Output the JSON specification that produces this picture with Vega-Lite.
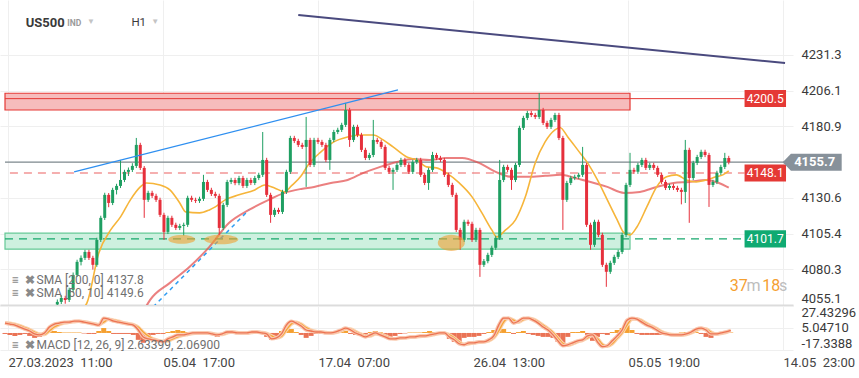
{
"$schema": "https://vega.github.io/schema/vega-lite/v6.json",
"padding": 0,
"spacing": 1,
"background": "white",
"config": {"view": {"stroke": null}, "font": "Roboto",
 "axis": {"labelFont": "Roboto", "labelFontSize": 13, "labelColor": "#3a3a3a", "gridColor": "#efefef", "domain": false, "ticks": false, "labelFlush": false}},
"datasets": {
"candles": [
{"t":53,"o":4055.5,"c":4057.3,"p":4054,"p2":4059},
{"t":57,"o":4057.3,"c":4060.1,"p":4055.8,"p2":4062},
{"t":61,"o":4060.1,"c":4058.7,"p":4056,"p2":4061.6},
{"t":65,"o":4058.7,"c":4065.8,"p":4057.2,"p2":4067.3},
{"t":69,"o":4065.8,"c":4076.3,"p":4064.3,"p2":4078},
{"t":73,"o":4076.3,"c":4085.5,"p":4074.8,"p2":4087},
{"t":77,"o":4085.5,"c":4088.3,"p":4083,"p2":4090},
{"t":81,"o":4088.3,"c":4092.5,"p":4086.8,"p2":4094},
{"t":85,"o":4092.5,"c":4088.3,"p":4086.8,"p2":4094},
{"t":89,"o":4088.3,"c":4083.4,"p":4080,"p2":4089.8},
{"t":93,"o":4083.4,"c":4101,"p":4082,"p2":4102.5},
{"t":97,"o":4101,"c":4116.5,"p":4099.5,"p2":4118},
{"t":101,"o":4116.5,"c":4132.7,"p":4115,"p2":4134.2},
{"t":105,"o":4132.7,"c":4127,"p":4124,"p2":4134},
{"t":109,"o":4127,"c":4136.2,"p":4125.5,"p2":4137.7},
{"t":113,"o":4136.2,"c":4139,"p":4133,"p2":4140.5},
{"t":117,"o":4139,"c":4143.2,"p":4137.5,"p2":4157.3},
{"t":121,"o":4143.2,"c":4148.9,"p":4141.7,"p2":4150.4},
{"t":125,"o":4148.9,"c":4150.3,"p":4146,"p2":4152},
{"t":129,"o":4150.3,"c":4153.1,"p":4148.8,"p2":4155},
{"t":133,"o":4153.1,"c":4167.9,"p":4151.6,"p2":4172.8},
{"t":137,"o":4167.9,"c":4151.7,"p":4150.2,"p2":4169.4},
{"t":141,"o":4151.7,"c":4129.2,"p":4116.5,"p2":4153},
{"t":145,"o":4129.2,"c":4134.1,"p":4127.7,"p2":4135.6},
{"t":149,"o":4134.1,"c":4132,"p":4130.5,"p2":4135.6},
{"t":153,"o":4132,"c":4129.2,"p":4127.7,"p2":4133.5},
{"t":157,"o":4129.2,"c":4118.6,"p":4117.1,"p2":4130.7},
{"t":161,"o":4118.6,"c":4106.6,"p":4101,"p2":4120.1},
{"t":165,"o":4106.6,"c":4116.5,"p":4105.1,"p2":4118},
{"t":169,"o":4116.5,"c":4111.6,"p":4110.1,"p2":4118},
{"t":173,"o":4111.6,"c":4109.4,"p":4107.9,"p2":4113.1},
{"t":177,"o":4109.4,"c":4110.8,"p":4107.9,"p2":4112.3},
{"t":181,"o":4110.8,"c":4111.6,"p":4104,"p2":4113.1},
{"t":185,"o":4111.6,"c":4130.6,"p":4110.1,"p2":4132.1},
{"t":189,"o":4130.6,"c":4129.2,"p":4127.7,"p2":4132.1},
{"t":193,"o":4129.2,"c":4128.5,"p":4127,"p2":4130.7},
{"t":197,"o":4128.5,"c":4129.9,"p":4127,"p2":4131.4},
{"t":201,"o":4129.9,"c":4141.8,"p":4128.4,"p2":4146.8},
{"t":205,"o":4141.8,"c":4136.2,"p":4134.7,"p2":4143.3},
{"t":209,"o":4136.2,"c":4133.4,"p":4131.9,"p2":4137.7},
{"t":213,"o":4133.4,"c":4132,"p":4130.5,"p2":4134.9},
{"t":217,"o":4132,"c":4109.4,"p":4104.5,"p2":4133.5},
{"t":221,"o":4109.4,"c":4125.6,"p":4107.9,"p2":4127.1},
{"t":225,"o":4125.6,"c":4141.8,"p":4124.1,"p2":4143.3},
{"t":229,"o":4141.8,"c":4143.2,"p":4140.3,"p2":4144.7},
{"t":233,"o":4143.2,"c":4141,"p":4139.5,"p2":4144.7},
{"t":237,"o":4141,"c":4144.6,"p":4139.5,"p2":4146.1},
{"t":241,"o":4144.6,"c":4139,"p":4137.5,"p2":4146.1},
{"t":245,"o":4139,"c":4143.2,"p":4137.5,"p2":4144.7},
{"t":249,"o":4143.2,"c":4141.1,"p":4139.6,"p2":4144.7},
{"t":253,"o":4141.1,"c":4144.6,"p":4139.6,"p2":4146.1},
{"t":257,"o":4144.6,"c":4146.8,"p":4143.1,"p2":4148.3},
{"t":261,"o":4146.8,"c":4157.3,"p":4145.3,"p2":4177},
{"t":265,"o":4157.3,"c":4132.7,"p":4131.2,"p2":4158.8},
{"t":269,"o":4132.7,"c":4118.6,"p":4113,"p2":4134.2},
{"t":273,"o":4118.6,"c":4122.1,"p":4117.1,"p2":4123.6},
{"t":277,"o":4122.1,"c":4120.7,"p":4119.2,"p2":4123.6},
{"t":281,"o":4120.7,"c":4134.8,"p":4119.2,"p2":4136.3},
{"t":285,"o":4134.8,"c":4148.9,"p":4133.3,"p2":4150.4},
{"t":289,"o":4148.9,"c":4172.8,"p":4147.4,"p2":4174.3},
{"t":293,"o":4172.8,"c":4170.7,"p":4169.2,"p2":4174.3},
{"t":297,"o":4170.7,"c":4167.9,"p":4166.4,"p2":4172.2},
{"t":301,"o":4167.9,"c":4166.5,"p":4165,"p2":4169.4},
{"t":305,"o":4166.5,"c":4171.4,"p":4138.3,"p2":4187.6},
{"t":309,"o":4171.4,"c":4153.8,"p":4152.3,"p2":4172.9},
{"t":313,"o":4153.8,"c":4171.4,"p":4152.3,"p2":4172.9},
{"t":317,"o":4171.4,"c":4170,"p":4168.5,"p2":4172.9},
{"t":321,"o":4170,"c":4167.9,"p":4166.4,"p2":4171.5},
{"t":325,"o":4167.9,"c":4157.3,"p":4155.8,"p2":4169.4},
{"t":329,"o":4157.3,"c":4171.4,"p":4150.3,"p2":4172.9},
{"t":333,"o":4171.4,"c":4177,"p":4169.9,"p2":4178.5},
{"t":337,"o":4177,"c":4178.5,"p":4175.5,"p2":4180},
{"t":341,"o":4178.5,"c":4182,"p":4177,"p2":4183.5},
{"t":345,"o":4182,"c":4192.5,"p":4180.5,"p2":4197.5},
{"t":349,"o":4192.5,"c":4171.4,"p":4166.5,"p2":4194},
{"t":353,"o":4171.4,"c":4180.6,"p":4169.9,"p2":4182.1},
{"t":357,"o":4180.6,"c":4174.9,"p":4173.4,"p2":4182.1},
{"t":361,"o":4174.9,"c":4164.4,"p":4162.9,"p2":4176.4},
{"t":365,"o":4164.4,"c":4158.7,"p":4157.2,"p2":4165.9},
{"t":369,"o":4158.7,"c":4160.8,"p":4157.2,"p2":4162.3},
{"t":373,"o":4160.8,"c":4171.4,"p":4159.3,"p2":4185.5},
{"t":377,"o":4171.4,"c":4170,"p":4168.5,"p2":4172.9},
{"t":381,"o":4170,"c":4166.5,"p":4165,"p2":4171.5},
{"t":385,"o":4166.5,"c":4151.7,"p":4150.2,"p2":4168},
{"t":389,"o":4151.7,"c":4148.9,"p":4147.4,"p2":4153.2},
{"t":393,"o":4148.9,"c":4150.3,"p":4136.2,"p2":4151.8},
{"t":397,"o":4150.3,"c":4153.8,"p":4148.8,"p2":4155.3},
{"t":401,"o":4153.8,"c":4157.3,"p":4152.3,"p2":4158.8},
{"t":405,"o":4157.3,"c":4153.8,"p":4152.3,"p2":4158.8},
{"t":409,"o":4153.8,"c":4148.9,"p":4147.4,"p2":4155.3},
{"t":413,"o":4148.9,"c":4155.9,"p":4147.4,"p2":4157.4},
{"t":417,"o":4155.9,"c":4157.3,"p":4154.4,"p2":4158.8},
{"t":421,"o":4157.3,"c":4146.8,"p":4145.3,"p2":4158.8},
{"t":425,"o":4146.8,"c":4141.1,"p":4139.6,"p2":4148.3},
{"t":429,"o":4141.1,"c":4150.3,"p":4136.2,"p2":4151.8},
{"t":433,"o":4150.3,"c":4160.8,"p":4148.8,"p2":4163},
{"t":437,"o":4160.8,"c":4158.7,"p":4157.2,"p2":4162.3},
{"t":441,"o":4158.7,"c":4157.3,"p":4155.8,"p2":4160.2},
{"t":445,"o":4157.3,"c":4146.8,"p":4145.3,"p2":4158.8},
{"t":449,"o":4146.8,"c":4139.7,"p":4138.2,"p2":4148.3},
{"t":453,"o":4139.7,"c":4132.7,"p":4131.2,"p2":4141.2},
{"t":457,"o":4132.7,"c":4108,"p":4106.5,"p2":4134.2},
{"t":461,"o":4108,"c":4101,"p":4094,"p2":4109.5},
{"t":465,"o":4101,"c":4113.7,"p":4099.5,"p2":4115.2},
{"t":469,"o":4113.7,"c":4112.3,"p":4110.8,"p2":4115.2},
{"t":473,"o":4112.3,"c":4101,"p":4099.5,"p2":4113.8},
{"t":477,"o":4101,"c":4108,"p":4099.5,"p2":4109.5},
{"t":481,"o":4108,"c":4083.4,"p":4074.9,"p2":4109.5},
{"t":485,"o":4083.4,"c":4086,"p":4081.9,"p2":4087.5},
{"t":489,"o":4086,"c":4090.4,"p":4084.5,"p2":4091.9},
{"t":493,"o":4090.4,"c":4095.4,"p":4088.9,"p2":4096.9},
{"t":497,"o":4095.4,"c":4102.4,"p":4093.9,"p2":4103.9},
{"t":501,"o":4102.4,"c":4143.2,"p":4100.9,"p2":4157.3},
{"t":505,"o":4143.2,"c":4152.4,"p":4141.7,"p2":4153.9},
{"t":509,"o":4152.4,"c":4150.3,"p":4148.8,"p2":4153.9},
{"t":513,"o":4150.3,"c":4143.2,"p":4136.2,"p2":4151.8},
{"t":517,"o":4143.2,"c":4153.8,"p":4141.7,"p2":4155.3},
{"t":521,"o":4153.8,"c":4179.9,"p":4152.3,"p2":4181.4},
{"t":525,"o":4179.9,"c":4186.9,"p":4178.4,"p2":4188.4},
{"t":529,"o":4186.9,"c":4190.4,"p":4185.4,"p2":4191.9},
{"t":533,"o":4190.4,"c":4189,"p":4187.5,"p2":4191.9},
{"t":537,"o":4189,"c":4187.6,"p":4186.1,"p2":4190.5},
{"t":541,"o":4187.6,"c":4192.5,"p":4186.1,"p2":4204.5},
{"t":545,"o":4192.5,"c":4183.4,"p":4181.9,"p2":4194},
{"t":549,"o":4183.4,"c":4180.6,"p":4179.1,"p2":4184.9},
{"t":553,"o":4180.6,"c":4185.5,"p":4179.1,"p2":4187},
{"t":557,"o":4185.5,"c":4189,"p":4184,"p2":4190.5},
{"t":561,"o":4189,"c":4172.8,"p":4171.3,"p2":4190.5},
{"t":565,"o":4172.8,"c":4129.2,"p":4108,"p2":4174.3},
{"t":569,"o":4129.2,"c":4141.1,"p":4127.7,"p2":4142.6},
{"t":573,"o":4141.1,"c":4144.6,"p":4139.6,"p2":4146.1},
{"t":577,"o":4144.6,"c":4145.4,"p":4143.1,"p2":4146.9},
{"t":581,"o":4145.4,"c":4146.8,"p":4143.9,"p2":4148.3},
{"t":585,"o":4146.8,"c":4153.8,"p":4145.3,"p2":4166.5},
{"t":589,"o":4153.8,"c":4111.6,"p":4110.1,"p2":4155.3},
{"t":593,"o":4111.6,"c":4097.5,"p":4094,"p2":4113.1},
{"t":597,"o":4097.5,"c":4113.7,"p":4096,"p2":4115.2},
{"t":601,"o":4113.7,"c":4104.5,"p":4103,"p2":4115.2},
{"t":605,"o":4104.5,"c":4083.4,"p":4081.9,"p2":4106},
{"t":609,"o":4083.4,"c":4078.5,"p":4067.9,"p2":4084.9},
{"t":613,"o":4078.5,"c":4084.8,"p":4077,"p2":4086.3},
{"t":617,"o":4084.8,"c":4089,"p":4083.3,"p2":4090.5},
{"t":621,"o":4089,"c":4092.5,"p":4087.5,"p2":4094},
{"t":625,"o":4092.5,"c":4104.5,"p":4091,"p2":4106},
{"t":629,"o":4104.5,"c":4139.7,"p":4103,"p2":4141.2},
{"t":633,"o":4139.7,"c":4150.3,"p":4138.2,"p2":4162.3},
{"t":637,"o":4150.3,"c":4149,"p":4147.5,"p2":4151.8},
{"t":641,"o":4149,"c":4153.8,"p":4147.5,"p2":4155.3},
{"t":645,"o":4153.8,"c":4157.3,"p":4152.3,"p2":4158.8},
{"t":649,"o":4157.3,"c":4151.7,"p":4150.2,"p2":4158.8},
{"t":653,"o":4151.7,"c":4153.8,"p":4150.2,"p2":4155.3},
{"t":657,"o":4153.8,"c":4151.7,"p":4150.2,"p2":4155.3},
{"t":661,"o":4151.7,"c":4146.8,"p":4145.3,"p2":4153.2},
{"t":665,"o":4146.8,"c":4141.8,"p":4140.3,"p2":4148.3},
{"t":669,"o":4141.8,"c":4137.6,"p":4136.1,"p2":4143.3},
{"t":673,"o":4137.6,"c":4139,"p":4136.1,"p2":4140.5},
{"t":677,"o":4139,"c":4137.6,"p":4136.1,"p2":4140.5},
{"t":681,"o":4137.6,"c":4136.2,"p":4134.7,"p2":4139.1},
{"t":685,"o":4136.2,"c":4134.8,"p":4126,"p2":4137.7},
{"t":689,"o":4134.8,"c":4164.4,"p":4127,"p2":4171.4},
{"t":693,"o":4164.4,"c":4144.6,"p":4113,"p2":4165.9},
{"t":697,"o":4144.6,"c":4155.2,"p":4143.1,"p2":4156.7},
{"t":701,"o":4155.2,"c":4159.4,"p":4153.7,"p2":4160.9},
{"t":705,"o":4159.4,"c":4163,"p":4157.9,"p2":4164.5},
{"t":709,"o":4163,"c":4160.8,"p":4159.3,"p2":4164.5},
{"t":713,"o":4160.8,"c":4139.7,"p":4124.2,"p2":4162.3},
{"t":717,"o":4139.7,"c":4141.8,"p":4138.2,"p2":4143.3},
{"t":721,"o":4141.8,"c":4148.2,"p":4140.3,"p2":4149.7},
{"t":725,"o":4148.2,"c":4152.4,"p":4146.7,"p2":4153.9},
{"t":729,"o":4152.4,"c":4158.7,"p":4150.9,"p2":4162.3},
{"t":733,"o":4158.7,"c":4155.7,"p":4154.2,"p2":4160.2}
],
"sma50": [
{"t":78,"p":4052},{"t":83,"p":4056.6},{"t":95,"p":4091.8},{"t":107,"p":4108},{"t":117,"p":4117.2},{"t":127,"p":4129.2},{"t":137,"p":4138.3},{"t":143,"p":4141.1},{"t":157,"p":4139.7},{"t":167,"p":4136.2},{"t":177,"p":4127},{"t":183,"p":4120.7},{"t":197,"p":4120},{"t":207,"p":4122.1},{"t":213,"p":4124.2},{"t":223,"p":4129.2},{"t":237,"p":4132.7},{"t":253,"p":4136.2},{"t":263,"p":4139.7},{"t":273,"p":4137.6},{"t":283,"p":4134.8},{"t":290,"p":4139},{"t":300,"p":4146.1},{"t":307,"p":4153.8},{"t":320,"p":4163},{"t":333,"p":4170},{"t":347,"p":4173.5},{"t":360,"p":4174.9},{"t":373,"p":4174.9},{"t":383,"p":4171.4},{"t":393,"p":4166.5},{"t":407,"p":4159.4},{"t":417,"p":4157.3},{"t":427,"p":4152.4},{"t":437,"p":4151.7},{"t":447,"p":4148.2},{"t":460,"p":4141.1},{"t":473,"p":4131.3},{"t":483,"p":4120},{"t":493,"p":4108},{"t":498,"p":4103.1},{"t":507,"p":4108},{"t":517,"p":4115.1},{"t":527,"p":4131.3},{"t":537,"p":4155.2},{"t":547,"p":4170},{"t":557,"p":4178.5},{"t":562,"p":4180.2},{"t":570,"p":4173.5},{"t":580,"p":4164.4},{"t":590,"p":4155.2},{"t":600,"p":4143.2},{"t":610,"p":4129.2},{"t":620,"p":4115.1},{"t":627,"p":4105.9},{"t":633,"p":4104.5},{"t":640,"p":4110.1},{"t":650,"p":4124.2},{"t":660,"p":4138.3},{"t":670,"p":4145.4},{"t":680,"p":4146.8},{"t":690,"p":4143.2},{"t":700,"p":4141.8},{"t":710,"p":4143.2},{"t":720,"p":4145.4},{"t":727,"p":4146.8},{"t":733,"p":4149.6}
],
"sma200": [
{"t":142,"p":4053},{"t":147,"p":4058.7},{"t":167,"p":4070.7},{"t":187,"p":4082},{"t":207,"p":4096.1},{"t":227,"p":4113},{"t":247,"p":4122.1},{"t":267,"p":4129.2},{"t":283,"p":4134.1},{"t":300,"p":4136.9},{"t":313,"p":4138.3},{"t":330,"p":4141.1},{"t":347,"p":4143.2},{"t":363,"p":4148.2},{"t":380,"p":4152.4},{"t":397,"p":4155.9},{"t":413,"p":4158},{"t":430,"p":4157.3},{"t":447,"p":4158.7},{"t":463,"p":4158.7},{"t":480,"p":4155.2},{"t":497,"p":4148.9},{"t":513,"p":4145.4},{"t":530,"p":4145.4},{"t":547,"p":4146.1},{"t":563,"p":4146.8},{"t":577,"p":4144.6},{"t":593,"p":4141.8},{"t":610,"p":4138.3},{"t":627,"p":4134.1},{"t":643,"p":4134.8},{"t":660,"p":4138.3},{"t":677,"p":4141.1},{"t":693,"p":4141.8},{"t":710,"p":4143.2},{"t":723,"p":4141.1},{"t":733,"p":4137.8}
],
"macd": [
{"t":0,"m":10,"s":10.5,"h":-1},{"t":5,"m":9,"s":10,"h":-2},{"t":10,"m":8,"s":9,"h":-3},{"t":15,"m":6,"s":7.5,"h":-2},{"t":20,"m":4,"s":5.5,"h":-1},{"t":25,"m":2,"s":3.5,"h":-3},{"t":30,"m":-1,"s":1,"h":-5},{"t":35,"m":-2,"s":-1,"h":-4},{"t":40,"m":0,"s":-1.5,"h":1},{"t":45,"m":6,"s":2,"h":3},{"t":50,"m":9,"s":6,"h":2},{"t":55,"m":10,"s":8.5,"h":1},{"t":60,"m":11,"s":10,"h":0.5},{"t":65,"m":11,"s":11,"h":0.5},{"t":70,"m":12,"s":11.5,"h":0.5},{"t":75,"m":12,"s":12,"h":0.5},{"t":80,"m":11,"s":11.5,"h":-0.5},{"t":85,"m":10,"s":10.5,"h":-1},{"t":90,"m":9,"s":9.5,"h":-1},{"t":95,"m":8,"s":8.5,"h":2},{"t":100,"m":15,"s":11,"h":5},{"t":105,"m":14,"s":14,"h":2},{"t":110,"m":12,"s":13,"h":-1},{"t":115,"m":11,"s":12,"h":-1},{"t":120,"m":10,"s":10.5,"h":-1},{"t":125,"m":9,"s":9.5,"h":-1},{"t":130,"m":8,"s":8.5,"h":-2},{"t":135,"m":3,"s":6,"h":-7},{"t":140,"m":-4,"s":1,"h":-10},{"t":145,"m":-6,"s":-3,"h":-6},{"t":150,"m":-7,"s":-6,"h":-2},{"t":155,"m":-8,"s":-7.5,"h":-1},{"t":160,"m":-9,"s":-8.5,"h":-1},{"t":165,"m":-6,"s":-8,"h":1},{"t":170,"m":-4,"s":-6,"h":2},{"t":175,"m":-2,"s":-4,"h":3},{"t":180,"m":-2,"s":-2.5,"h":2},{"t":185,"m":-1,"s":-1.5,"h":1},{"t":190,"m":0,"s":-0.5,"h":0.5},{"t":195,"m":0,"s":0,"h":0.5},{"t":200,"m":0,"s":0,"h":0.5},{"t":205,"m":0,"s":0,"h":-1},{"t":210,"m":-1,"s":-0.5,"h":-2},{"t":215,"m":-2,"s":-1.5,"h":-4},{"t":220,"m":-1,"s":-1.5,"h":-2},{"t":225,"m":1,"s":0,"h":1},{"t":230,"m":1,"s":1,"h":1},{"t":235,"m":0,"s":0.5,"h":0.5},{"t":240,"m":0,"s":0,"h":0.5},{"t":245,"m":0,"s":0,"h":-0.5},{"t":250,"m":1,"s":0.5,"h":0.5},{"t":255,"m":1,"s":1,"h":0.5},{"t":260,"m":0,"s":0.5,"h":-1},{"t":265,"m":-1,"s":-0.5,"h":-4},{"t":270,"m":-6,"s":-3,"h":-7},{"t":275,"m":-5,"s":-5,"h":-4},{"t":280,"m":-1,"s":-3.5,"h":2},{"t":285,"m":8,"s":3,"h":5},{"t":290,"m":12,"s":9,"h":4},{"t":295,"m":10,"s":11,"h":1},{"t":300,"m":7,"s":9,"h":-2},{"t":305,"m":3,"s":5.5,"h":-5},{"t":310,"m":2,"s":3,"h":-3},{"t":315,"m":1,"s":1.5,"h":-1},{"t":320,"m":1,"s":1,"h":-1},{"t":325,"m":0,"s":0.5,"h":-0.5},{"t":330,"m":0,"s":0,"h":-1},{"t":335,"m":1,"s":0.5,"h":1},{"t":340,"m":3,"s":2,"h":2},{"t":345,"m":5,"s":4,"h":2},{"t":350,"m":3,"s":4,"h":-1},{"t":355,"m":0,"s":1.5,"h":-2},{"t":360,"m":-2,"s":-1,"h":-3},{"t":365,"m":-4,"s":-3,"h":-2},{"t":370,"m":-2,"s":-3,"h":1},{"t":375,"m":0,"s":-1,"h":2},{"t":380,"m":-2,"s":-1,"h":1},{"t":385,"m":-4,"s":-3,"h":-2},{"t":390,"m":-6,"s":-5,"h":-4},{"t":395,"m":-6,"s":-6,"h":-3},{"t":400,"m":-5,"s":-5.5,"h":-1},{"t":405,"m":-5,"s":-5,"h":-0.5},{"t":410,"m":-4,"s":-4.5,"h":0.5},{"t":415,"m":-4,"s":-4,"h":0.5},{"t":420,"m":-3,"s":-3.5,"h":0.5},{"t":425,"m":-3,"s":-3,"h":1},{"t":430,"m":-2,"s":-2.5,"h":2},{"t":435,"m":-1,"s":-1.5,"h":1},{"t":440,"m":0,"s":-0.5,"h":1},{"t":445,"m":0,"s":0,"h":-2},{"t":450,"m":-4,"s":-2,"h":-6},{"t":455,"m":-7,"s":-5,"h":-9},{"t":460,"m":-11,"s":-9,"h":-10},{"t":465,"m":-12,"s":-11.5,"h":-5},{"t":470,"m":-10,"s":-11,"h":-4},{"t":475,"m":-10,"s":-10,"h":-4},{"t":480,"m":-9,"s":-9.5,"h":-3},{"t":485,"m":-9,"s":-9,"h":-1},{"t":490,"m":-7,"s":-8,"h":1},{"t":495,"m":-3,"s":-5,"h":3},{"t":500,"m":8,"s":2,"h":6},{"t":505,"m":15,"s":11,"h":4},{"t":510,"m":15,"s":15,"h":1},{"t":515,"m":10,"s":13,"h":-1},{"t":520,"m":12,"s":11,"h":1},{"t":525,"m":15,"s":13.5,"h":2},{"t":530,"m":15,"s":15,"h":-1},{"t":535,"m":13,"s":14,"h":-2},{"t":540,"m":10,"s":11.5,"h":-3},{"t":545,"m":6,"s":8,"h":-4},{"t":550,"m":3,"s":4.5,"h":-4},{"t":555,"m":-2,"s":0.5,"h":-5},{"t":560,"m":-8,"s":-5,"h":-9},{"t":565,"m":-13,"s":-10.5,"h":-12},{"t":570,"m":-12,"s":-12.5,"h":-4},{"t":575,"m":-10,"s":-11,"h":1},{"t":580,"m":-8,"s":-9,"h":1},{"t":585,"m":-7,"s":-7.5,"h":2},{"t":590,"m":-3,"s":-5,"h":-2},{"t":595,"m":-2,"s":-2.5,"h":-8},{"t":600,"m":-9,"s":-5.5,"h":-4},{"t":605,"m":-14,"s":-11.5,"h":-1},{"t":610,"m":-13,"s":-13.5,"h":-2},{"t":615,"m":-8,"s":-11,"h":1},{"t":620,"m":-3,"s":-5.5,"h":3},{"t":625,"m":3,"s":0,"h":5},{"t":630,"m":13,"s":8,"h":8},{"t":635,"m":15,"s":14,"h":3},{"t":640,"m":14,"s":14.5,"h":-1},{"t":645,"m":11,"s":12.5,"h":-2},{"t":650,"m":8,"s":9.5,"h":-2},{"t":655,"m":6,"s":7,"h":-2},{"t":660,"m":3,"s":4.5,"h":-2},{"t":665,"m":0,"s":1.5,"h":-2},{"t":670,"m":-1,"s":-0.5,"h":-1},{"t":675,"m":-2,"s":-1.5,"h":-0.5},{"t":680,"m":-2,"s":-2,"h":-0.5},{"t":685,"m":-2,"s":-2,"h":0.5},{"t":690,"m":-1,"s":-1.5,"h":1},{"t":695,"m":1,"s":0,"h":1},{"t":700,"m":4,"s":2.5,"h":1},{"t":705,"m":5,"s":4.5,"h":-1},{"t":710,"m":3,"s":4,"h":-4},{"t":715,"m":-1,"s":1,"h":-5},{"t":720,"m":-1,"s":-1,"h":-2},{"t":725,"m":0,"s":-0.5,"h":-1},{"t":730,"m":1,"s":0.5,"h":0.5},{"t":735,"m":2.6,"s":2.07,"h":0.5}
]
},
"vconcat": [
{
"width": 793, "height": 305,
"data": {"name": "candles"},
"encoding": {
 "x": {"field": "t", "type": "quantitative", "title": null, "scale": {"domain": [0, 793], "nice": false, "zero": false},
   "axis": {"values": [3, 160, 317, 474, 631, 788], "labels": false, "ticks": false, "domain": true, "domainColor": "#dcdcdc", "domainWidth": 2, "grid": true, "gridColor": "#efefef"}},
 "y": {"field": "p", "type": "quantitative", "title": null, "scale": {"domain": [4055.1, 4270], "nice": false, "zero": false},
   "axis": {"orient": "right", "values": [4055.1, 4080.3, 4105.4, 4130.6, 4180.9, 4206.1, 4231.3], "format": ".1f", "labelFlush": 1, "labelPadding": 8, "grid": true, "gridColor": "#efefef"}}
},
"layer": [
 {"data": {"values": [{"t": 0, "t2": 633, "p": 4192.5, "p2": 4204.3}]}, "mark": {"type": "rect", "fill": "#f6bcbc", "stroke": "#e53935", "strokeWidth": 1.2}, "encoding": {"x2": {"field": "t2"}, "y2": {"field": "p2"}}},
 {"data": {"values": [{"t": 0, "t2": 633, "p": 4094.4, "p2": 4105.7}]}, "mark": {"type": "rect", "fill": "#cdf0df", "stroke": "#66c997", "strokeWidth": 1.2}, "encoding": {"x2": {"field": "t2"}, "y2": {"field": "p2"}}},
 {"data": {"values": [{"t": 0, "t2": 749, "p": 4200.5}]}, "mark": {"type": "rule", "color": "#e53935", "strokeWidth": 1}, "encoding": {"x2": {"field": "t2"}}},
 {"data": {"values": [{"t": 5, "t2": 749, "p": 4148.1}]}, "mark": {"type": "rule", "color": "#e84545", "strokeWidth": 1.2, "strokeDash": [8, 6], "opacity": 0.85}, "encoding": {"x2": {"field": "t2"}}},
 {"data": {"values": [{"t": 0, "t2": 749, "p": 4101.7}]}, "mark": {"type": "rule", "color": "#17a86c", "strokeWidth": 1.2, "strokeDash": [8, 6]}, "encoding": {"x2": {"field": "t2"}}},
 {"data": {"values": [{"t": 0, "t2": 790, "p": 4155.7}]}, "mark": {"type": "rule", "color": "#7d878d", "strokeWidth": 1.3}, "encoding": {"x2": {"field": "t2"}}},
 {"data": {"name": "sma200"}, "mark": {"type": "line", "color": "#e34a4a", "strokeWidth": 2, "opacity": 0.7, "interpolate": "monotone", "clip": true}, "encoding": {}},
 {"data": {"name": "sma50"}, "mark": {"type": "line", "color": "#f6b53a", "strokeWidth": 1.6, "interpolate": "monotone", "clip": true}, "encoding": {}},
 {"mark": {"type": "rule", "strokeWidth": 1, "clip": true},
  "encoding": {"y2": {"field": "p2"}, "color": {"condition": {"test": "datum.c >= datum.o", "value": "#1f9f62"}, "value": "#e6303c"}}},
 {"mark": {"type": "bar", "size": 3, "clip": true},
  "encoding": {"y": {"field": "o", "type": "quantitative", "title": null, "scale": {"domain": [4055.1, 4270], "nice": false, "zero": false},
    "axis": {"orient": "right", "values": [4055.1, 4080.3, 4105.4, 4130.6, 4180.9, 4206.1, 4231.3], "format": ".1f", "labelFlush": 1, "labelPadding": 8, "grid": true, "gridColor": "#efefef"}}, "y2": {"field": "c"},
   "color": {"condition": {"test": "datum.c >= datum.o", "value": "#1f9f62"}, "value": "#e6303c"}}},
 {"data": {"values": [{"t": 70, "p": 4148.9}, {"t": 398, "p": 4206.6}]}, "mark": {"type": "line", "color": "#2e8ff0", "strokeWidth": 1.3}, "encoding": {}},
 {"data": {"values": [{"t": 150, "p": 4053.7}, {"t": 247, "p": 4122.1}]}, "mark": {"type": "line", "color": "#2e9cf2", "strokeWidth": 1.5, "strokeDash": [4, 4], "clip": true}, "encoding": {}},
 {"data": {"values": [{"t": 297, "p": 4259.4}, {"t": 790, "p": 4225.6}]}, "mark": {"type": "line", "color": "#4a4a7e", "strokeWidth": 2}, "encoding": {}},
 {"data": {"values": [{"t": 179, "p": 4101.3}]}, "mark": {"type": "point", "filled": true, "color": "#f0a030", "opacity": 0.6, "size": 729, "shape": "M-1,0C-1,-0.177,-0.552,-0.32,0,-0.32C0.552,-0.32,1,-0.177,1,0C1,0.177,0.552,0.32,0,0.32C-0.552,0.32,-1,0.177,-1,0Z"}},
 {"data": {"values": [{"t": 219, "p": 4101.3}]}, "mark": {"type": "point", "filled": true, "color": "#f0a030", "opacity": 0.6, "size": 1156, "shape": "M-1,0C-1,-0.155,-0.552,-0.28,0,-0.28C0.552,-0.28,1,-0.155,1,0C1,0.155,0.552,0.28,0,0.28C-0.552,0.28,-1,0.155,-1,0Z"}},
 {"data": {"values": [{"t": 452, "p": 4098.9}]}, "mark": {"type": "point", "filled": true, "color": "#f0a030", "opacity": 0.6, "size": 729, "shape": "M-1,0C-1,-0.331,-0.552,-0.6,0,-0.6C0.552,-0.6,1,-0.331,1,0C1,0.331,0.552,0.6,0,0.6C-0.552,0.6,-1,0.331,-1,0Z"}},
 {"data": {"values": [{"t": 749, "t2": 791, "p": 4194.6, "p2": 4206.6, "k": "r"}, {"t": 749, "t2": 791, "p": 4142.1, "p2": 4154.1, "k": "r"}, {"t": 749, "t2": 791, "p": 4095.7, "p2": 4107.7, "k": "g"}]},
  "mark": {"type": "rect"}, "encoding": {"x2": {"field": "t2"}, "y2": {"field": "p2"}, "fill": {"field": "k", "type": "nominal", "legend": null, "scale": {"domain": ["r", "g"], "range": ["#e53935", "#10aa72"]}}}},
 {"data": {"values": [{"t": 817.5, "p": 4155.7}]}, "mark": {"type": "point", "filled": true, "color": "#87919a", "opacity": 1, "size": 3481, "shape": "M-1,0L-0.72,-0.29L1,-0.29L1,0.29L-0.72,0.29Z"}},
 {"data": {"values": [{"t": 770, "p": 4200.5, "s": "4200.5"}, {"t": 770, "p": 4148.1, "s": "4148.1"}, {"t": 770, "p": 4101.7, "s": "4101.7"}]},
  "mark": {"type": "text", "color": "white", "fontSize": 12, "align": "center", "baseline": "middle"}, "encoding": {"text": {"field": "s"}}},
 {"data": {"values": [{"t": 820, "p": 4155.7, "s": "4155.7"}]},
  "mark": {"type": "text", "color": "white", "fontSize": 13, "fontWeight": "bold", "align": "center", "baseline": "middle"}, "encoding": {"text": {"field": "s"}}},
 {"data": {"values": [{"t": 21, "p": 4254, "s": "US500"}]}, "mark": {"type": "text", "color": "#3a3a3a", "fontSize": 13, "fontWeight": "bold", "align": "left", "baseline": "middle"}, "encoding": {"text": {"field": "s"}}},
 {"data": {"values": [{"t": 63, "p": 4254, "s": "IND"}]}, "mark": {"type": "text", "color": "#9a9a9a", "fontSize": 8.5, "fontWeight": "bold", "align": "left", "baseline": "middle"}, "encoding": {"text": {"field": "s"}}},
 {"data": {"values": [{"t": 128, "p": 4254, "s": "H1"}]}, "mark": {"type": "text", "color": "#3a3a3a", "fontSize": 11.5, "align": "left", "baseline": "middle"}, "encoding": {"text": {"field": "s"}}},
 {"data": {"values": [{"t": 83, "p": 4254.8, "s": "▼"}, {"t": 148, "p": 4254.8, "s": "▼"}]}, "mark": {"type": "text", "color": "#c4c4c4", "fontSize": 8, "align": "left", "baseline": "middle"}, "encoding": {"text": {"field": "s"}}},
 {"data": {"values": [{"t": 7, "p": 4072.8, "s": "≡"}, {"t": 7, "p": 4063.7, "s": "≡"}, {"t": 20, "p": 4072.8, "s": "✖"}, {"t": 20, "p": 4063.7, "s": "✖"}]}, "mark": {"type": "text", "color": "#8a8a8a", "fontSize": 12, "fontWeight": "bold", "align": "left", "baseline": "middle"}, "encoding": {"text": {"field": "s"}}},
 {"data": {"values": [{"t": 32, "p": 4072.8, "s": "SMA [200, 0] 4137.8"}, {"t": 32, "p": 4063.7, "s": "SMA [50, 10] 4149.6"}]}, "mark": {"type": "text", "color": "#707070", "fontSize": 12, "align": "left", "baseline": "middle"}, "encoding": {"text": {"field": "s"}}},
 {"data": {"values": [{"t": 734, "p": 4068.6, "s": "37"}, {"t": 767, "p": 4068.6, "s": "18"}]}, "mark": {"type": "text", "color": "#f5a030", "fontSize": 16, "align": "left", "baseline": "middle"}, "encoding": {"text": {"field": "s"}}},
 {"data": {"values": [{"t": 751, "p": 4068.6, "s": "m"}, {"t": 784, "p": 4068.6, "s": "s"}]}, "mark": {"type": "text", "color": "#bdbdbd", "fontSize": 16, "align": "left", "baseline": "middle"}, "encoding": {"text": {"field": "s"}}}
]
},
{
"width": 793, "height": 44,
"data": {"name": "macd"},
"encoding": {
 "x": {"field": "t", "type": "quantitative", "title": null, "scale": {"domain": [0, 793], "nice": false, "zero": false},
   "axis": {"values": [3, 160, 317, 474, 631, 788], "labelAlign": "left", "labelFlush": false, "labelPadding": 6, "labelFontSize": 13, "labelColor": "#444", "grid": true, "gridColor": "#efefef",
     "labelExpr": "datum.value < 10 ? '27.03.2023\u00a0 11:00' : datum.value < 200 ? '05.04\u00a0 17:00' : datum.value < 400 ? '17.04\u00a0 07:00' : datum.value < 500 ? '26.04\u00a0 13:00' : datum.value < 700 ? '05.05\u00a0 19:00' : '14.05\u00a0 23:00'"}},
 "y": {"field": "m", "type": "quantitative", "title": null, "scale": {"domain": [-17.3388, 27.43296], "nice": false, "zero": false},
   "axis": {"orient": "right", "values": [-17.3388, 5.0471, 27.43296], "labelFlush": 1, "labelPadding": 8, "grid": true, "gridColor": "#efefef",
     "labelExpr": "datum.value > 20 ? '27.43296' : datum.value > 0 ? '5.04710' : '-17.3388'"}}
},
"layer": [
 {"mark": {"type": "bar", "size": 5, "clip": true},
  "encoding": {"y": {"field": "h", "type": "quantitative", "title": null, "scale": {"domain": [-17.3388, 27.43296], "nice": false, "zero": false},
    "axis": {"orient": "right", "values": [-17.3388, 5.0471, 27.43296], "labelFlush": 1, "labelPadding": 8, "grid": true, "gridColor": "#efefef", "labelExpr": "datum.value > 20 ? '27.43296' : datum.value > 0 ? '5.04710' : '-17.3388'"}}, "y2": {"datum": 0},
   "color": {"condition": {"test": "datum.h > 0", "value": "#f5a030"}, "value": "#ea7355"}}},
 {"mark": {"type": "line", "color": "#fbd3b0", "strokeWidth": 3.5, "interpolate": "monotone", "clip": true}, "encoding": {"y": {"field": "s", "type": "quantitative", "title": null, "scale": {"domain": [-17.3388, 27.43296], "nice": false, "zero": false},
    "axis": {"orient": "right", "values": [-17.3388, 5.0471, 27.43296], "labelFlush": 1, "labelPadding": 8, "grid": true, "gridColor": "#efefef", "labelExpr": "datum.value > 20 ? '27.43296' : datum.value > 0 ? '5.04710' : '-17.3388'"}}}},
 {"mark": {"type": "line", "color": "#f6a535", "strokeWidth": 1.3, "interpolate": "monotone", "clip": true}, "encoding": {"y": {"field": "s", "type": "quantitative", "title": null, "scale": {"domain": [-17.3388, 27.43296], "nice": false, "zero": false},
    "axis": {"orient": "right", "values": [-17.3388, 5.0471, 27.43296], "labelFlush": 1, "labelPadding": 8, "grid": true, "gridColor": "#efefef", "labelExpr": "datum.value > 20 ? '27.43296' : datum.value > 0 ? '5.04710' : '-17.3388'"}}}},
 {"mark": {"type": "line", "color": "#f9c6ae", "strokeWidth": 3.5, "interpolate": "monotone", "clip": true}, "encoding": {}},
 {"mark": {"type": "line", "color": "#ec7452", "strokeWidth": 1.3, "interpolate": "monotone", "clip": true}, "encoding": {}},
 {"data": {"values": [{"t": 7, "m": -12.2, "s": "≡"}, {"t": 20, "m": -12.2, "s": "✖"}]}, "mark": {"type": "text", "color": "#8a8a8a", "fontSize": 12, "fontWeight": "bold", "align": "left", "baseline": "middle"}, "encoding": {"text": {"field": "s"}}},
 {"data": {"values": [{"t": 32, "m": -12.2, "s": "MACD [12, 26, 9] 2.63399,  2.06900"}]}, "mark": {"type": "text", "color": "#707070", "fontSize": 12, "align": "left", "baseline": "middle"}, "encoding": {"text": {"field": "s"}}}
]
}
]
}
